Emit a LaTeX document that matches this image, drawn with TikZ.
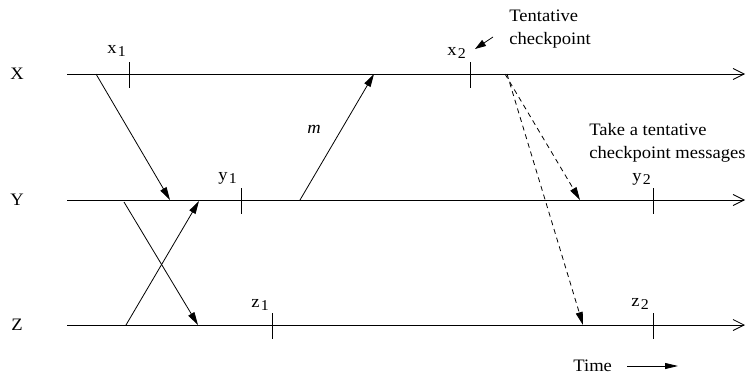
\documentclass[tikz,border=0pt]{standalone}
\usepackage{fontspec}
\setmainfont[FakeStretch=1.06]{Liberation Serif}
\usetikzlibrary{arrows.meta}
\newcommand{\evsub}[2]{#1\kern1.2pt\raisebox{-.45ex}{\fontsize{15}{15}\selectfont #2}}

\begin{document}
\begin{tikzpicture}[x=1pt,y=-1pt,line width=.8pt,line join=round,
	font=\fontsize{17.5}{22.5}\selectfont,
	msg/.style={-{Triangle[length=13pt,width=7pt]}},
	axisline/.style={-{Straight Barb[length=11pt,width=11pt,line width=.8pt]}},
	lbl/.style={anchor=base west,inner sep=0pt}]
	\useasboundingbox (0,0) rectangle (749,378);
	% processes
	\path (17,74) node (X) {X} (17,200) node (Y) {Y} (17,325) node (Z) {Z};
	\foreach \p/\y in {x/74,y/200,z/325} {
		\coordinate (\p s) at (67,\y);
		\coordinate (\p e) at (745,\y);
		\draw[axisline] (\p s) -- (\p e);
	}
	% checkpoints
	\foreach \x/\y in {129/74,470/74,241/200,653/200,272/325,653/325}
		\draw (\x,\y-12) -- (\x,\y+14);
	\node[lbl] (x1) at (107,53) {\evsub{x}{1}};
	\node[lbl] (x2) at (447,55) {\evsub{x}{2}};
	\node[lbl] (y1) at (218,180) {\evsub{y}{1}};
	\node[lbl] (y2) at (632,181) {\evsub{y}{2}};
	\node[lbl] (z1) at (251,307) {\evsub{z}{1}};
	\node[lbl] (z2) at (631,306) {\evsub{z}{2}};
	% messages
	\coordinate (a1) at (96,74);   \coordinate (a2) at (170,200);
	\coordinate (b1) at (126,325); \coordinate (b2) at (199,201);
	\coordinate (c1) at (124,202); \coordinate (c2) at (198,325);
	\coordinate (m1) at (300,200); \coordinate (m2) at (374,74);
	\draw[msg] (a1) -- (a2);
	\draw[msg] (b1) -- (b2);
	\draw[msg] (c1) -- (c2);
	\draw[msg] (m1) -- (m2);
	\node (m) at (314,129) {\textit{m}};
	% tentative checkpoint requests
	\coordinate (d1) at (505,74);  \coordinate (d2) at (580,200);
	\coordinate (e1) at (507,74);  \coordinate (e2) at (583,325);
	\draw[msg,dash pattern=on 5pt off 4pt] (d1) -- (d2);
	\draw[msg,dash pattern=on 5pt off 4pt] (e1) -- (e2);
	\node[anchor=north west,inner sep=0pt,align=left] (tc) at (509,10) {Tentative\\checkpoint};
	\coordinate (t1) at (493,37);  \coordinate (t2) at (475,49);
	\draw[-{Triangle[length=11pt,width=7pt]}] (t1) -- (t2);
	\node[anchor=north west,inner sep=0pt,align=left] (req) at (589,123) {Take a tentative\\checkpoint messages};
	% time
	\node[lbl] (time) at (573,371) {Time};
	\coordinate (ts) at (627,366); \coordinate (te) at (678,366);
	\draw[-{Triangle[length=13pt,width=6pt]}] (ts) -- (te);
\end{tikzpicture}
\end{document}
